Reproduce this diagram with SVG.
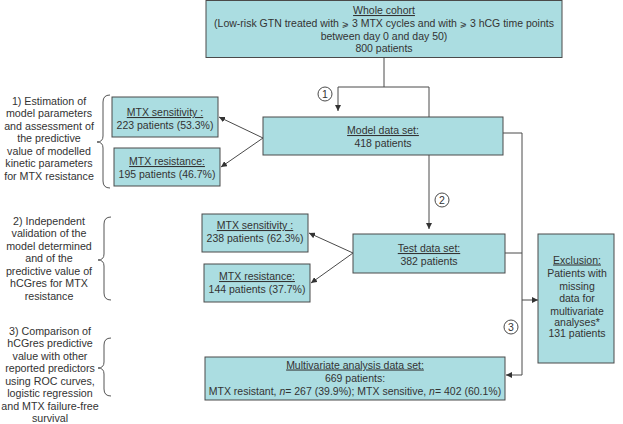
<svg xmlns="http://www.w3.org/2000/svg" width="623" height="424" viewBox="0 0 623 424">
<style>
text{font-family:"Liberation Sans",Arial,sans-serif;font-size:10.5px;fill:#333;text-anchor:middle}
.ann text{font-size:10.7px}
.sym{font-family:"DejaVu Sans","Liberation Sans",sans-serif;font-size:8.5px}
.u{text-decoration:underline}
.box{fill:#ABDDE1;stroke:#4a4a4a;stroke-width:1}
.ln{fill:none;stroke:#4a4a4a;stroke-width:1}
.br{fill:none;stroke:#555;stroke-width:1}
.circ{fill:#fff;stroke:#4a4a4a;stroke-width:1}
</style>
<defs>
<marker id="ah" viewBox="0 0 10 10" refX="10" refY="5" markerWidth="6" markerHeight="6" orient="auto" markerUnits="userSpaceOnUse">
<path d="M0,0 L10,5 L0,10 z" fill="#333"/>
</marker>
</defs>
<rect width="623" height="424" fill="#fff"/>

<g id="connectors">
<path class="ln" d="M384,57 V87"/>
<path class="ln" d="M338,87 H429"/>
<path class="ln" d="M338,87 V111" marker-end="url(#ah)"/>
<path class="ln" d="M429,87 V117"/>
<path class="ln" d="M429,117 V155" stroke-dasharray="2,2"/>
<path class="ln" d="M429,155 V229" marker-end="url(#ah)"/>
<path class="ln" d="M503,133 H522 V375 H506" marker-end="url(#ah)"/>
<path class="ln" d="M505,253 H522"/>
<path class="ln" d="M522,300 H538" marker-end="url(#ah)"/>
<path class="ln" d="M263,138 L219,117" marker-end="url(#ah)"/>
<path class="ln" d="M263,138 L221,167" marker-end="url(#ah)"/>
<path class="ln" d="M353,253 L309,233" marker-end="url(#ah)"/>
<path class="ln" d="M353,253 L311,283" marker-end="url(#ah)"/>
<circle class="circ" cx="325" cy="94" r="7"/>
<text x="325" y="97.5">1</text>
<circle class="circ" cx="442" cy="200" r="7"/>
<text x="442" y="203.5">2</text>
<circle class="circ" cx="511" cy="327" r="7"/>
<text x="511" y="330.5">3</text>
</g>

<g id="whole-cohort">
<rect class="box" x="206" y="0.5" width="356" height="57"/>
<text x="384" y="14" class="u">Whole cohort</text>
<text x="384" y="27">(Low-risk GTN treated with <tspan class="sym">⩾</tspan> 3 MTX cycles and with <tspan class="sym">⩾</tspan> 3 hCG time points</text>
<text x="384" y="39.5">between day 0 and day 50)</text>
<text x="384" y="52">800 patients</text>
</g>

<g id="model-data-set">
<rect class="box" x="263" y="117" width="240" height="38"/>
<text x="383" y="134" class="u">Model data set:</text>
<text x="383" y="147">418 patients</text>
</g>

<g id="mtx-sens-1">
<rect class="box" x="112" y="97" width="106" height="40"/>
<text x="165" y="116" class="u">MTX sensitivity :</text>
<text x="165" y="128.5">223 patients (53.3%)</text>
</g>

<g id="mtx-res-1">
<rect class="box" x="114" y="148" width="106" height="38"/>
<text x="167" y="165" class="u">MTX resistance:</text>
<text x="167" y="177.5">195 patients (46.7%)</text>
</g>

<g id="test-data-set">
<rect class="box" x="353" y="234" width="152" height="39"/>
<text x="429" y="252" class="u">Test data set:</text>
<text x="429" y="265">382 patients</text>
</g>

<g id="mtx-sens-2">
<rect class="box" x="202" y="214" width="106" height="38"/>
<text x="255" y="229" class="u">MTX sensitivity :</text>
<text x="255" y="241.5">238 patients (62.3%)</text>
</g>

<g id="mtx-res-2">
<rect class="box" x="204" y="264" width="106" height="38"/>
<text x="257" y="280" class="u">MTX resistance:</text>
<text x="257" y="293">144 patients (37.7%)</text>
</g>

<g id="exclusion">
<rect class="box" x="538" y="234" width="76" height="129"/>
<text x="577" y="263.5" class="u">Exclusion:</text>
<text x="577" y="276.5">Patients with</text>
<text x="577" y="289.5">missing</text>
<text x="577" y="302">data for</text>
<text x="577" y="314.5">multivariate</text>
<text x="577" y="326">analyses*</text>
<text x="577" y="337">131 patients</text>
</g>

<g id="multivariate">
<rect class="box" x="205" y="357" width="300" height="43"/>
<text x="355" y="368.5" class="u">Multivariate analysis data set:</text>
<text x="355" y="381.5">669 patients:</text>
<text x="355" y="394.5">MTX resistant, <tspan font-style="italic">n</tspan>= 267 (39.9%); MTX sensitive, <tspan font-style="italic">n</tspan>= 402 (60.1%)</text>
</g>

<g id="annotation-1" class="ann">
<path class="br" d="M110,95 Q103,95 103,102 L103,136 Q103,142 97,142 Q103,142 103,148 L103,181 Q103,188 110,188"/>
<text x="49" y="104.5">1) Estimation of</text>
<text x="49" y="117">model parameters</text>
<text x="49" y="129.5">and assessment of</text>
<text x="49" y="142">the predictive</text>
<text x="49" y="154.5">value of modelled</text>
<text x="49" y="167">kinetic parameters</text>
<text x="49" y="179.5">for MTX resistance</text>
</g>

<g id="annotation-2" class="ann">
<path class="br" d="M111,217 Q104,217 104,224 L104,254 Q104,260 98,260 Q104,260 104,266 L104,293 Q104,300 111,300"/>
<text x="49" y="224.5">2) Independent</text>
<text x="49" y="237">validation of the</text>
<text x="49" y="249.5">model determined</text>
<text x="49" y="262">and of the</text>
<text x="49" y="274.5">predictive value of</text>
<text x="49" y="287">hCGres for MTX</text>
<text x="49" y="299.5">resistance</text>
</g>

<g id="annotation-3" class="ann">
<path class="br" d="M111,338 Q104,338 104,345 L104,362 Q104,368 98,368 Q104,368 104,374 L104,389 Q104,396 111,396"/>
<text x="50" y="334.5">3) Comparison of</text>
<text x="50" y="347">hCGres predictive</text>
<text x="50" y="359.5">value with other</text>
<text x="50" y="372">reported predictors</text>
<text x="50" y="384.5">using ROC curves,</text>
<text x="50" y="397">logistic regression</text>
<text x="50" y="409.5">and MTX failure-free</text>
<text x="50" y="422">survival</text>
</g>
</svg>
